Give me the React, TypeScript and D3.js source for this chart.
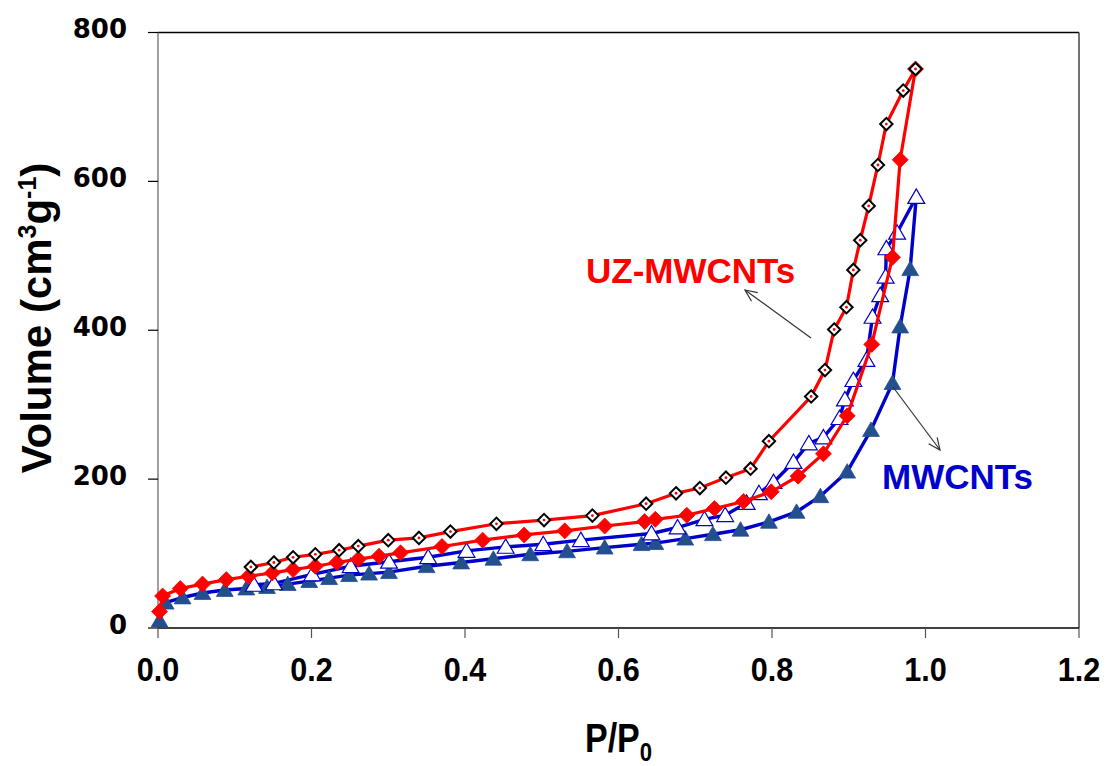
import React from "react";
import * as d3 from "d3";

// Relative pressure P/P0 and adsorbed volume (cm3/g)
const uzAdsX = [0.002, 0.006, 0.029, 0.058, 0.089, 0.118, 0.149, 0.176, 0.205, 0.233, 0.261, 0.288, 0.316, 0.37, 0.423, 0.477, 0.53, 0.582, 0.634, 0.648, 0.689, 0.725, 0.763, 0.799, 0.834, 0.867, 0.898, 0.93, 0.957, 0.967, 0.987];
const uzAdsY = [22, 43, 53, 59, 65, 69.5, 74, 78.5, 83, 88, 92.5, 96.5, 101, 109.5, 118, 125, 130.5, 137, 143, 146, 151.5, 160.5, 170, 183, 204, 234, 285, 381, 498, 629, 751];

const uzDesX = [0.121, 0.151, 0.176, 0.205, 0.236, 0.261, 0.3, 0.34, 0.381, 0.441, 0.503, 0.566, 0.636, 0.675, 0.706, 0.74, 0.772, 0.796, 0.851, 0.869, 0.881, 0.897, 0.906, 0.915, 0.926, 0.938, 0.949, 0.971, 0.987];
const uzDesY = [82, 88, 95, 99, 104.5, 110, 118, 121, 129.5, 140, 145, 151, 167, 181, 188, 202, 214, 251, 311, 346.5, 401, 431, 481, 521, 567, 622, 677, 722, 751];

const mwAdsX = [0.002, 0.01, 0.032, 0.058, 0.087, 0.115, 0.142, 0.169, 0.197, 0.223, 0.249, 0.275, 0.301, 0.35, 0.395, 0.437, 0.485, 0.533, 0.582, 0.63, 0.648, 0.687, 0.723, 0.759, 0.796, 0.832, 0.863, 0.898, 0.929, 0.957, 0.967, 0.98, 0.988];
const mwAdsY = [10, 34, 41, 47, 51, 53, 55, 59, 63, 67, 71, 73, 75, 83, 88, 93, 99, 103, 108, 112.6, 114, 120, 126, 132, 142.6, 156, 177, 210, 266, 329, 405, 482, 579];

const mwDesX = [0.125, 0.151, 0.201, 0.251, 0.301, 0.352, 0.402, 0.453, 0.502, 0.551, 0.643, 0.677, 0.712, 0.739, 0.767, 0.783, 0.802, 0.828, 0.848, 0.867, 0.888, 0.895, 0.906, 0.923, 0.931, 0.941, 0.948, 0.949, 0.963, 0.988];
const mwDesY = [58, 60, 72, 83, 89, 95, 103.6, 109, 112.6, 118, 127, 135, 146, 151.6, 168, 181, 196, 223, 248, 256, 282, 307, 333, 360, 418, 447, 472, 510, 531, 579];

const xTicks = [0, 0.2, 0.4, 0.6, 0.8, 1.0, 1.2];
const yTicks = [0, 200, 400, 600, 800];

const W = 1109;
const H = 766;
const left = 158;
const right = 1079;
const top = 32.5;
const bottom = 628;

const RED = "#ff0000";
const BLUE = "#0000cc";
const TRI_FILL = "#234f8f";

type Pt = { x: number; y: number };
const zip = (xs: number[], ys: number[]): Pt[] => xs.map((x, i) => ({ x, y: ys[i] }));

export default function App() {
  const x = d3.scaleLinear().domain([0, 1.2]).range([left, right]);
  const y = d3.scaleLinear().domain([0, 800]).range([bottom, top]);
  const line = d3
    .line<Pt>()
    .x((d) => x(d.x))
    .y((d) => y(d.y));

  const uzAds = zip(uzAdsX, uzAdsY);
  const uzDes = zip(uzDesX, uzDesY);
  const mwAds = zip(mwAdsX, mwAdsY);
  const mwDes = zip(mwDesX, mwDesY);

  const diamond = (cx: number, cy: number, r: number) =>
    `M${cx},${cy - r}L${cx + r},${cy}L${cx},${cy + r}L${cx - r},${cy}Z`;
  const triangle = (cx: number, cy: number, r: number) =>
    `M${cx},${cy - r}L${cx + r * 1.05},${cy + r * 0.8}L${cx - r * 1.05},${cy + r * 0.8}Z`;

  const arrowHead = (x1: number, y1: number, x2: number, y2: number, len = 13, spread = 0.42) => {
    const a = Math.atan2(y1 - y2, x1 - x2);
    const p1 = [x2 + len * Math.cos(a + spread), y2 + len * Math.sin(a + spread)];
    const p2 = [x2 + len * Math.cos(a - spread), y2 + len * Math.sin(a - spread)];
    return `M${p1[0]},${p1[1]}L${x2},${y2}L${p2[0]},${p2[1]}`;
  };

  return (
    <svg
      width={W}
      height={H}
      style={{ position: "absolute", left: 0, top: 0, background: "#fff" }}
      fontFamily="'Liberation Sans', Arial, sans-serif"
    >
      {/* frame */}
      <line x1={left} y1={top} x2={right} y2={top} stroke="#000" strokeWidth={1.5} />
      <line x1={right} y1={top} x2={right} y2={bottom} stroke="#444" strokeWidth={1.5} />
      <line x1={left} y1={top} x2={left} y2={bottom} stroke="#808080" strokeWidth={1.5} />
      <line x1={left} y1={bottom} x2={right} y2={bottom} stroke="#000" strokeWidth={1.5} />

      {/* y ticks */}
      {yTicks.map((t) => (
        <g key={"y" + t}>
          <line x1={left - 10} x2={left} y1={y(t)} y2={y(t)} stroke="#000" strokeWidth={1.2} />
          <text
            x={127}
            y={y(t) - 2}
            textAnchor="end"
            dominantBaseline="middle"
            fontFamily="'DejaVu Sans', sans-serif"
            fontWeight="bold"
            fontSize={26}
            fill="#000"
          >
            {t}
          </text>
        </g>
      ))}

      {/* x ticks */}
      {xTicks.map((t) => (
        <g key={"x" + t}>
          <line x1={x(t)} x2={x(t)} y1={bottom} y2={bottom + 10} stroke="#555" strokeWidth={1.2} />
          <g transform={`translate(${x(t)},681) scale(0.9,1)`}>
            <text textAnchor="middle" fontWeight="bold" fontSize={34} fill="#000">
              {t.toFixed(1)}
            </text>
          </g>
        </g>
      ))}

      {/* axis titles */}
      <g transform={`translate(${(left + right) / 2},752) scale(0.85,1)`}>
        <text textAnchor="middle" fontWeight="bold" fontSize={40} fill="#000">
          P/P<tspan fontSize={26} dy={9}>0</tspan>
        </text>
      </g>
      <text
        transform="translate(51,318) rotate(-90)"
        textAnchor="middle"
        fontWeight="bold"
        fontSize={42}
        fill="#000"
      >
        Volume (cm<tspan fontSize={25} dy={-15}>3</tspan>
        <tspan dy={15}>g</tspan>
        <tspan fontSize={25} dy={-15}>-1</tspan>
        <tspan dy={15}>)</tspan>
      </text>

      {/* MWCNTs */}
      <path d={line(mwAds) ?? ""} fill="none" stroke={BLUE} strokeWidth={3.4} />
      <path d={line(mwDes) ?? ""} fill="none" stroke={BLUE} strokeWidth={3.4} />
      {mwAds.map((d, i) => (
        <path key={"ma" + i} d={triangle(x(d.x), y(d.y), 8)} fill={TRI_FILL} stroke={TRI_FILL} strokeWidth={0.8} />
      ))}
      {mwDes.map((d, i) => (
        <path key={"md" + i} d={triangle(x(d.x), y(d.y), 8)} fill="#fff" stroke={BLUE} strokeWidth={1.2} />
      ))}

      {/* UZ-MWCNTs */}
      <path d={line(uzAds) ?? ""} fill="none" stroke={RED} strokeWidth={3.2} />
      <path d={line(uzDes) ?? ""} fill="none" stroke={RED} strokeWidth={3.2} />
      {uzAds.map((d, i) => (
        <path key={"ua" + i} d={diamond(x(d.x), y(d.y), 8)} fill={RED} stroke={RED} strokeWidth={0.8} />
      ))}
      {uzDes.map((d, i) => (
        <g key={"ud" + i}>
          <path d={diamond(x(d.x), y(d.y), 6.2)} fill="#fff" stroke="#000" strokeWidth={2} />
          <circle cx={x(d.x)} cy={y(d.y)} r={1.4} fill={RED} />
        </g>
      ))}

      {/* annotations */}
      <text x={586} y={283} fontWeight="bold" fontSize={35} fill={RED}>
        UZ-MWCNTs
      </text>
      <line x1={811} y1={338} x2={745} y2={290} stroke="#333" strokeWidth={1.2} />
      <path d={arrowHead(811, 338, 745, 290)} fill="none" stroke="#333" strokeWidth={1.2} />

      <text x={882} y={489} fontWeight="bold" fontSize={35} fill={BLUE}>
        MWCNTs
      </text>
      <line x1={893} y1={387} x2={940} y2={450} stroke="#333" strokeWidth={1.2} />
      <path d={arrowHead(893, 387, 940, 450)} fill="none" stroke="#333" strokeWidth={1.2} />
    </svg>
  );
}
